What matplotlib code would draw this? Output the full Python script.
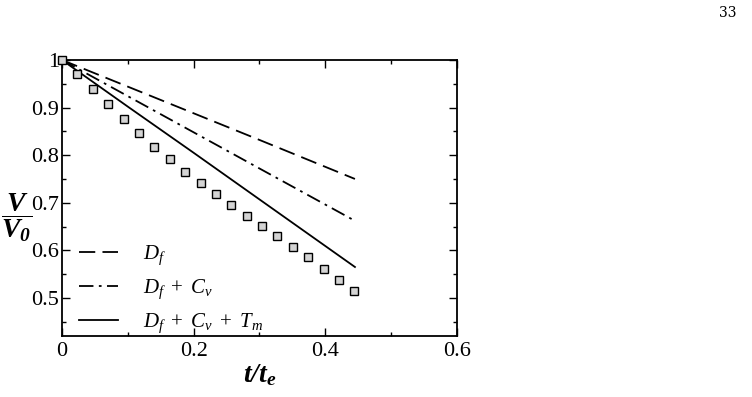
import numpy as np
import matplotlib
matplotlib.use("Agg")
import matplotlib.pyplot as plt
from matplotlib.ticker import MultipleLocator, FixedLocator, FixedFormatter

plt.rcParams['font.family'] = ['Liberation Serif', 'DejaVu Serif']
plt.rcParams['mathtext.fontset'] = 'custom'
plt.rcParams['mathtext.rm'] = 'Liberation Serif'
plt.rcParams['mathtext.it'] = 'Liberation Serif:italic'
plt.rcParams['mathtext.bf'] = 'Liberation Serif:bold:italic'

# experiment (squares)
t_exp = [0.0, 0.023, 0.047, 0.070, 0.094, 0.117, 0.140, 0.164, 0.187, 0.211,
         0.234, 0.257, 0.281, 0.304, 0.327, 0.351, 0.374, 0.398, 0.421, 0.444]
v_exp = [1.0, 0.970, 0.940, 0.908, 0.875, 0.846, 0.818, 0.792, 0.765, 0.741,
         0.719, 0.696, 0.673, 0.651, 0.630, 0.607, 0.585, 0.560, 0.538, 0.514]

# model curves
t_mod = [0.0, 0.1, 0.2, 0.3, 0.445]
v_df = [1.0, 0.944, 0.888, 0.832, 0.750]
v_dfcv = [1.0, 0.924, 0.848, 0.772, 0.662]
v_dfcvtm = [1.0, 0.902, 0.805, 0.707, 0.565]

labels = [r'$D_f$', r'$D_f\ +\ C_v$', r'$D_f\ +\ C_v\ +\ T_m$']
xticks = [0, 0.2, 0.4, 0.6]
xtick_labels = ['0', '0.2', '0.4', '0.6']
yticks = [0.5, 0.6, 0.7, 0.8, 0.9, 1.0]
ytick_labels = ['0.5', '0.6', '0.7', '0.8', '0.9', '1']

fig = plt.figure(figsize=(7.52, 3.97), dpi=100)
ax = fig.add_axes([0.0824, 0.1537, 0.5253, 0.6952])

ax.plot(t_mod, v_df, color='black', lw=1.3, dashes=(9, 4), label=labels[0])
ax.plot(t_mod, v_dfcv, color='black', lw=1.3, dashes=(8, 3, 1.5, 3), label=labels[1])
ax.plot(t_mod, v_dfcvtm, color='black', lw=1.3, label=labels[2])
ax.plot(t_exp, v_exp, ls='none', marker='s', ms=5.5, mfc='#d4d4d4', mec='black',
        mew=1.0, clip_on=False, zorder=3)

ax.set_xlim(0, 0.6)
ax.set_ylim(0.42, 1.0)
ax.xaxis.set_major_locator(FixedLocator(xticks))
ax.xaxis.set_major_formatter(FixedFormatter(xtick_labels))
ax.yaxis.set_major_locator(FixedLocator(yticks))
ax.yaxis.set_major_formatter(FixedFormatter(ytick_labels))
ax.xaxis.set_minor_locator(MultipleLocator(0.1))
ax.yaxis.set_minor_locator(MultipleLocator(0.05))
ax.tick_params(which='both', direction='in', top=True, right=True, labelsize=16)
ax.tick_params(axis='y', pad=2)
ax.tick_params(axis='x', pad=4)
ax.tick_params(which='major', length=6, width=1.0)
ax.tick_params(which='minor', length=3, width=1.0)
for s in ax.spines.values():
    s.set_linewidth(1.3)

ax.set_xlabel(r'$\mathbf{t/t_e}$', fontsize=20, labelpad=1)
fig.text(17 / 752, 1 - 218 / 397, r'$\mathbf{\dfrac{V}{V_0}}$', fontsize=20,
         ha='center', va='center')

ax.legend(loc='lower left', bbox_to_anchor=(-0.005, -0.065), frameon=False, fontsize=15,
          handlelength=1.9, handletextpad=1.2, labelspacing=0.5)

fig.text(736 / 752, 1 - 13 / 397, '33', fontsize=10, ha='right', va='center',
         family='DejaVu Serif')

fig.savefig('out.png', dpi=100)
